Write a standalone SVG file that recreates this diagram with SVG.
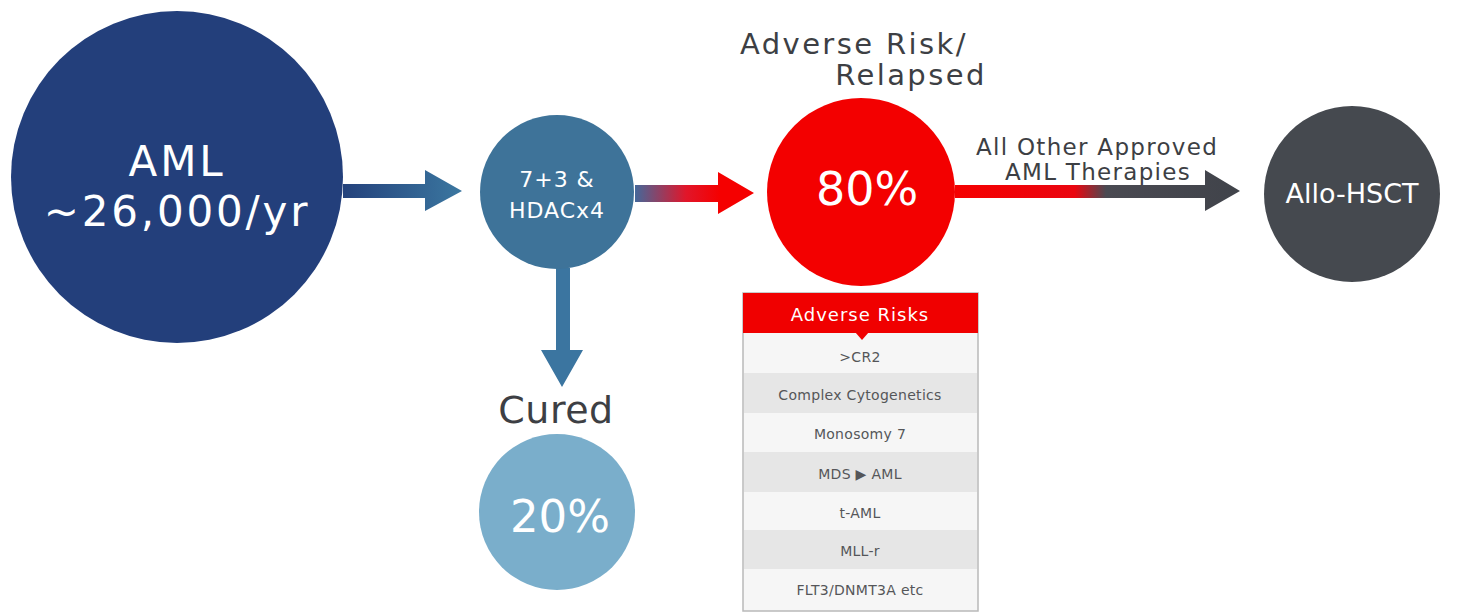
<svg xmlns="http://www.w3.org/2000/svg" width="1461" height="612" viewBox="0 0 1461 612">
<defs>
<style>
.w{fill:#fff;font-family:"DejaVu Sans","Liberation Sans",sans-serif;text-anchor:middle}
.g{fill:#3d3f44;font-family:"DejaVu Sans","Liberation Sans",sans-serif;text-anchor:middle}
.row{fill:#555659;font-family:"DejaVu Sans","Liberation Sans",sans-serif;font-size:14px;letter-spacing:0.3px;text-anchor:middle}
</style>
<linearGradient id="gBlue" x1="343" y1="0" x2="462" y2="0" gradientUnits="userSpaceOnUse">
<stop offset="0" stop-color="#24427c"/><stop offset="1" stop-color="#3b77a0"/>
</linearGradient>
<linearGradient id="gRed" x1="635" y1="0" x2="720" y2="0" gradientUnits="userSpaceOnUse">
<stop offset="0" stop-color="#44689a"/><stop offset="0.6" stop-color="#e1162a"/><stop offset="1" stop-color="#f50000"/>
</linearGradient>
<linearGradient id="gGray" x1="955" y1="0" x2="1240" y2="0" gradientUnits="userSpaceOnUse">
<stop offset="0" stop-color="#f50000"/><stop offset="0.42" stop-color="#ea0610"/><stop offset="0.53" stop-color="#4a4a52"/><stop offset="1" stop-color="#40434a"/>
</linearGradient>
</defs>
<rect width="1461" height="612" fill="#fff"/>
<g id="connectors">
<path d="M343 184 H425 V170 L462 191 L425 211 V198 H343 Z" fill="url(#gBlue)"/>
<path d="M635 185 H718 V172 L754 193 L718 214 V202 H635 Z" fill="url(#gRed)"/>
<path d="M955 185 H1205 V170 L1240 191 L1205 211 V198 H955 Z" fill="url(#gGray)"/>
<path d="M556 268 H570 V350 H583 L562 387 L541 350 H556 Z" fill="#3b75a0"/>
</g>
<g id="aml">
<circle cx="177" cy="177" r="166" fill="#233f7b"/>
<text class="w" x="177" y="176" font-size="42" letter-spacing="2.8">AML</text>
<text class="w" x="177" y="226" font-size="42" letter-spacing="2.8">~26,000/yr</text>
</g>
<g id="induction">
<circle cx="557" cy="192" r="77" fill="#3e7399"/>
<text class="w" x="557" y="187" font-size="22" letter-spacing="1">7+3 &amp;</text>
<text class="w" x="557" y="218" font-size="22" letter-spacing="1">HDACx4</text>
</g>
<g id="cured">
<text class="g" x="556" y="423" font-size="38" letter-spacing="0.5">Cured</text>
<circle cx="557" cy="512" r="78" fill="#7aaecb"/>
<text class="w" x="560" y="532" font-size="45">20%</text>
</g>
<g id="adverse">
<text class="g" x="854" y="54" font-size="29" letter-spacing="2.4">Adverse Risk/</text>
<text class="g" x="911" y="85" font-size="29" letter-spacing="2.4">Relapsed</text>
<circle cx="861" cy="192" r="94" fill="#f30000"/>
<text class="w" x="867" y="205" font-size="46">80%</text>
</g>
<g id="other-label">
<text class="g" x="1097" y="155" font-size="23" letter-spacing="1.3">All Other Approved</text>
<text class="g" x="1098" y="180" font-size="23" letter-spacing="1.3">AML Therapies</text>
</g>
<g id="allo">
<circle cx="1352" cy="194" r="88" fill="#45494f"/>
<text class="w" x="1352" y="203" font-size="27">Allo-HSCT</text>
</g>
<g id="risk-table">
<rect x="743" y="293" width="235" height="318" fill="#f6f6f6" stroke="#b9b9b9" stroke-width="1.5"/>
<rect x="744" y="373" width="233" height="40" fill="#e6e6e6"/>
<rect x="744" y="452" width="233" height="40" fill="#e6e6e6"/>
<rect x="744" y="530" width="233" height="39" fill="#e6e6e6"/>
<rect x="743" y="293" width="235" height="40" fill="#f00000"/>
<path d="M855 332 L869 332 L862 340 Z" fill="#f00000"/>
<text class="w" x="860" y="321" font-size="18" letter-spacing="1">Adverse Risks</text>
<text class="row" x="860" y="362">&gt;CR2</text>
<text class="row" x="860" y="400">Complex Cytogenetics</text>
<text class="row" x="860" y="439">Monosomy 7</text>
<text class="row" x="860" y="479">MDS ▶ AML</text>
<text class="row" x="860" y="518">t-AML</text>
<text class="row" x="860" y="556">MLL-r</text>
<text class="row" x="860" y="595">FLT3/DNMT3A etc</text>
</g>
</svg>
